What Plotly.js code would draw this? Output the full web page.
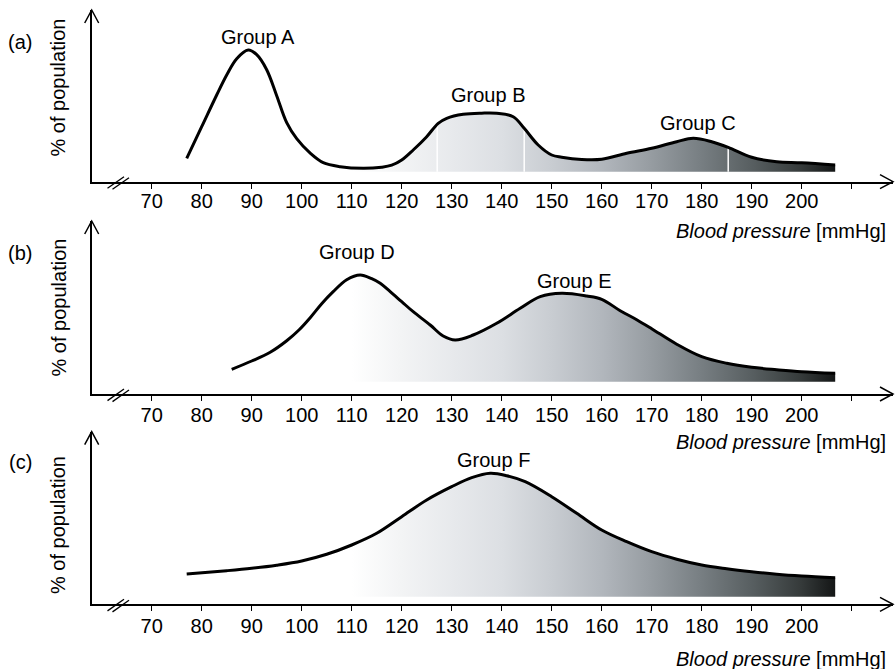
<!DOCTYPE html>
<html>
<head>
<meta charset="utf-8">
<script src="https://cdn.plot.ly/plotly-3.0.1.min.js"></script>
<style>html,body{margin:0;padding:0;background:#fff;}#chart{width:896px;height:669px;}</style>
</head>
<body>
<div id="chart"></div>
<script>
// ---------- data (blood pressure in mmHg, share of population in arbitrary %) ----------
const bpA  = [77, 80, 83, 85, 87, 89.3, 91, 93, 95, 97, 99, 101.7, 104.3, 107.7, 112.3, 116, 118, 120, 122.3, 125, 127.3, 129, 132.3, 136, 139, 142.3, 144.5, 147.3, 150, 152, 156, 160, 165, 170, 175, 178.3, 182, 185.3, 190, 195, 200, 206.7];
const popA = [1.34, 4.5, 7.67, 9.67, 11.3, 12.17, 11.7, 10.2, 7.6, 4.9, 3.3, 1.85, 0.9, 0.5, 0.34, 0.45, 0.65, 1.17, 2.17, 3.5, 4.84, 5.34, 5.74, 5.85, 5.84, 5.5, 4.34, 2.67, 1.67, 1.45, 1.22, 1.24, 1.84, 2.34, 3.0, 3.34, 3.0, 2.44, 1.44, 1.0, 0.9, 0.67];
const dividersA = [127.1, 144.5, 185.3];

const bpB  = [86, 90, 93.7, 97, 99.5, 101.7, 104, 106.3, 109, 111.7, 114, 115.7, 117.7, 120, 122.3, 125.7, 128.3, 130.7, 134.3, 139, 143.7, 147.7, 152, 157, 160, 163.7, 167, 170, 175, 180, 185, 190, 195, 200, 206.7];
const popB = [1.24, 2.07, 2.95, 4.1, 5.2, 6.4, 7.8, 9.0, 10.2, 10.67, 10.3, 9.84, 9.0, 8.0, 7.0, 5.67, 4.57, 4.17, 4.67, 5.84, 7.34, 8.5, 8.84, 8.57, 8.24, 7.1, 6.2, 5.3, 3.75, 2.5, 1.84, 1.44, 1.2, 1.0, 0.84];

const bpC  = [77, 85, 90, 95, 100, 105, 110, 115, 120, 125, 130, 134, 137.7, 141, 144.7, 150, 155, 160, 165, 170, 175, 180, 185, 190, 195, 200, 206.7];
const popC = [2.27, 2.6, 2.84, 3.15, 3.57, 4.24, 5.17, 6.34, 8.0, 9.67, 11.0, 11.9, 12.34, 12.1, 11.5, 10.0, 8.34, 6.67, 5.5, 4.5, 3.75, 3.17, 2.8, 2.5, 2.25, 2.07, 1.9];

const tickVals   = [70, 80, 90, 100, 110, 120, 130, 140, 150, 160, 170, 180, 190, 200, 210];
const tickLabels = ['70', '80', '90', '100', '110', '120', '130', '140', '150', '160', '170', '180', '190', '200', ''];

const groupLabels = ['Group A', 'Group B', 'Group C', 'Group D', 'Group E', 'Group F'];
const panelLabels = ['(a)', '(b)', '(c)'];
const yTitle = '% of population';
const xTitle = '<i>Blood pressure</i> [mmHg]';

const gradientStart = 110, gradientStop = 206.7;
const gradientScale = [
  [0.00, '#ffffff'], [0.10, '#f3f4f5'], [0.21, '#e7e9ec'], [0.31, '#dcdfe3'],
  [0.41, '#c9cdd2'], [0.52, '#b1b6bc'], [0.62, '#969ca1'], [0.72, '#787f83'],
  [0.83, '#575e60'], [0.93, '#353a3a'], [1.00, '#141616']
];

// ---------- layout helpers (pixel -> paper) ----------
const W = 896, H = 669;
const px = x => x / W;
const py = y => 1 - y / H;
const FONT = 'Liberation Sans, Arial, Helvetica, sans-serif';

const xLeftPx = 91.7, xRightPx = 893;   // y-axis position and arrow tip
const xMin = 58, pxPerUnit = 5;
const xMax = xMin + (xRightPx - xLeftPx) / pxPerUnit;

const panels = [
  {axisPx: 181.7, topPx: 10,    gapPx: 10,  tickStand: -5, titlePx: 231.5, labelPx: 41.7, yTitlePx: 87.5},
  {axisPx: 394,   topPx: 221,   gapPx: 12.3, tickStand: -3, titlePx: 442,  labelPx: 253,  yTitlePx: 307.5},
  {axisPx: 604.3, topPx: 431.7, gapPx: 7.6, tickStand: -2, titlePx: 659,  labelPx: 462,  yTitlePx: 525}
];
const series = [[bpA, popA], [bpB, popB], [bpC, popC]];
const groupPos = [[258.3, 37, 0], [487.5, 95, 0], [697.5, 123, 0], [357, 252, 1], [574, 281, 1], [493.5, 460, 2]];

function interp(xs, ys, v) {
  for (let i = 0; i < xs.length - 1; i++) {
    if (v >= xs[i] && v <= xs[i + 1]) {
      const t = (v - xs[i]) / (xs[i + 1] - xs[i]);
      return ys[i] + t * (ys[i + 1] - ys[i]);
    }
  }
  return 0;
}

const traces = [];
const layout = {
  width: W, height: H, margin: {l: 0, r: 0, t: 0, b: 0},
  paper_bgcolor: '#ffffff', plot_bgcolor: 'rgba(0,0,0,0)',
  showlegend: false, font: {family: FONT, size: 20, color: '#000'},
  annotations: [], shapes: []
};

panels.forEach((p, i) => {
  const n = i === 0 ? '' : String(i + 1);
  const xa = 'x' + n, ya = 'y' + n;
  const [xs, ys] = series[i];
  const unitPx = 10;
  const hPx = p.axisPx - p.topPx;
  layout['xaxis' + n] = {
    domain: [px(xLeftPx), px(xRightPx)], range: [xMin, xMax], anchor: ya,
    showline: true, linecolor: '#000', linewidth: 2,
    ticks: 'outside', ticklen: 5, tickwidth: 1.5, tickcolor: '#000',
    tickmode: 'array', tickvals: tickVals, ticktext: tickLabels,
    tickfont: {family: FONT, size: 20, color: '#000'}, ticklabelstandoff: p.tickStand,
    showgrid: false, zeroline: false, fixedrange: true
  };
  layout['yaxis' + n] = {
    domain: [py(p.axisPx), py(p.topPx)],
    range: [-p.gapPx / unitPx, (hPx - p.gapPx) / unitPx], anchor: xa,
    showline: true, linecolor: '#000', linewidth: 2,
    showticklabels: false, ticks: '', showgrid: false, zeroline: false, fixedrange: true
  };

  // gradient-filled area
  traces.push({
    x: xs, y: ys, xaxis: xa, yaxis: ya, type: 'scatter', mode: 'lines',
    line: {width: 0, shape: 'spline', color: 'rgba(0,0,0,0)'}, fill: 'tozeroy',
    fillgradient: {type: 'horizontal', colorscale: gradientScale, start: gradientStart, stop: gradientStop},
    hoverinfo: 'skip'
  });
  if (i === 0) {
    dividersA.forEach(d => {
      traces.push({
        x: [d, d], y: [0, interp(xs, ys, d)], xaxis: xa, yaxis: ya, type: 'scatter', mode: 'lines',
        line: {width: 1.5, color: '#ffffff'}, hoverinfo: 'skip'
      });
    });
  }
  // curve
  traces.push({
    x: xs, y: ys, xaxis: xa, yaxis: ya, type: 'scatter', mode: 'lines',
    line: {width: 3, shape: 'spline', color: '#000'}, hoverinfo: 'skip'
  });

  // arrows
  const a = p.axisPx, t = p.topPx;
  const path = pts => pts.map((q, k) => (k ? 'L' : 'M') + px(q[0]).toFixed(5) + ',' + py(q[1]).toFixed(5)).join(' ');
  layout.shapes.push({type: 'path', xref: 'paper', yref: 'paper',
    path: path([[xRightPx - 13, a - 7], [xRightPx, a], [xRightPx - 13, a + 7]]), line: {color: '#000', width: 1.5}});
  layout.shapes.push({type: 'path', xref: 'paper', yref: 'paper',
    path: path([[xLeftPx - 7, t + 13], [xLeftPx, t], [xLeftPx + 7, t + 13]]), line: {color: '#000', width: 1.5}});
  // axis break marks
  layout.shapes.push({type: 'path', xref: 'paper', yref: 'paper',
    path: path([[107.5, a + 6.6], [124, a - 5]]), line: {color: '#000', width: 1.3}});
  layout.shapes.push({type: 'path', xref: 'paper', yref: 'paper',
    path: path([[112.5, a + 7.6], [129, a - 4]]), line: {color: '#000', width: 1.3}});

  // texts
  layout.annotations.push({text: panelLabels[i], xref: 'paper', yref: 'paper', x: px(20), y: py(p.labelPx),
    xanchor: 'center', yanchor: 'middle', showarrow: false, font: {family: FONT, size: 20, color: '#000'}});
  layout.annotations.push({text: yTitle, xref: 'paper', yref: 'paper', x: px(58), y: py(p.yTitlePx),
    textangle: -90, xanchor: 'center', yanchor: 'middle', showarrow: false, font: {family: FONT, size: 20, color: '#000'}});
  layout.annotations.push({text: xTitle, xref: 'paper', yref: 'paper', x: px(888), y: py(p.titlePx),
    xanchor: 'right', yanchor: 'middle', showarrow: false, font: {family: FONT, size: 20, color: '#000'}});
});

groupPos.forEach((g, k) => {
  layout.annotations.push({text: groupLabels[k], xref: 'paper', yref: 'paper', x: px(g[0]), y: py(g[1]),
    xanchor: 'center', yanchor: 'middle', showarrow: false, font: {family: FONT, size: 20, color: '#000'}});
});

Plotly.newPlot('chart', traces, layout, {displayModeBar: false, staticPlot: true});
</script>
</body>
</html>
